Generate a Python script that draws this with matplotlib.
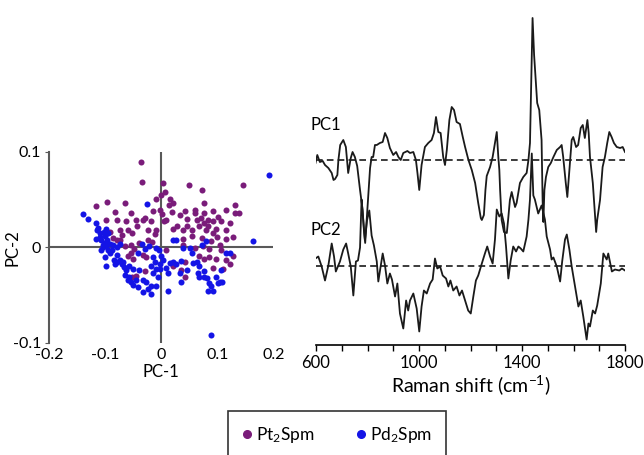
import matplotlib
matplotlib.use("Agg")
import matplotlib.pyplot as plt
from matplotlib.lines import Line2D
from matplotlib.ticker import FixedLocator, MultipleLocator

plt.rcParams["font.family"] = ["Lato", "DejaVu Sans"]
plt.rcParams["mathtext.fontset"] = "custom"
plt.rcParams["mathtext.rm"] = "Lato"
plt.rcParams["mathtext.it"] = "Lato:italic"
plt.rcParams["axes.unicode_minus"] = False

# PCA scores, Pt2Spm
pt_x = [-0.037, -0.034, 0.003, 0.007, -0.001, 0.049, 0.073, 0.146, -0.097, -0.116,
        -0.064, 0.016, 0.020, 0.014, -0.014, -0.083, -0.098, -0.080, -0.063, -0.046,
        -0.030, -0.032, -0.003, 0.002, 0.019, 0.033, 0.043, 0.060, 0.061, 0.071,
        0.077, 0.092, 0.077, 0.116, 0.131, 0.139, 0.131, 0.063, 0.083, 0.076,
        0.083, 0.092, 0.068, 0.045, 0.028, 0.021, 0.008, 0.004, -0.009, -0.012,
        -0.024, -0.043, -0.060, -0.074, -0.092, -0.086, -0.071, -0.052, 0.038, 0.054,
        0.073, 0.097, 0.092, 0.116, 0.115, 0.128, 0.099, 0.089, -0.055, -0.049,
        -0.039, -0.024, -0.017, 0.038, 0.060, 0.074, 0.086, 0.107, 0.128, 0.116,
        0.098, 0.086, 0.076, 0.067, -0.060, -0.054, -0.051, -0.033, -0.027, 0.122,
        0.110, 0.042, 0.036, 0.021, -0.045, -0.052, -0.030, 0.009, -0.074, -0.065,
        0.101, 0.107, 0.122, 0.045, 0.038, 0.042, 0.092, -0.080, 0.080, 0.104,
        0.054, -0.018, -0.054, -0.009]
pt_y = [0.089, 0.068, 0.067, 0.058, 0.055, 0.065, 0.060, 0.065, 0.047, 0.043,
        0.046, 0.050, 0.046, 0.044, 0.038, 0.037, 0.029, 0.029, 0.027, 0.029,
        0.031, 0.028, 0.039, 0.035, 0.037, 0.034, 0.038, 0.039, 0.036, 0.031,
        0.036, 0.038, 0.046, 0.039, 0.044, 0.036, 0.036, 0.029, 0.029, 0.025,
        0.022, 0.027, 0.022, 0.022, 0.022, 0.019, 0.029, 0.027, 0.018, 0.014,
        0.018, 0.022, 0.018, 0.018, 0.016, 0.010, 0.013, 0.015, 0.009, 0.012,
        0.010, 0.019, 0.015, 0.018, 0.009, 0.011, 0.011, 0.007, 0.002, -0.002,
        0.004, 0.008, 0.005, 0.002, -0.001, 0.001, -0.002, -0.003, -0.009, -0.013,
        -0.012, -0.010, -0.012, -0.009, -0.009, -0.006, -0.012, -0.008, -0.010, -0.018,
        -0.023, -0.031, -0.024, -0.020, -0.030, -0.031, -0.025, -0.003, 0.008, 0.001,
        0.032, 0.027, 0.025, 0.030, 0.018, -0.015, -0.022, 0.008, 0.018, 0.002,
        0.018, 0.027, 0.036, 0.050]

# PCA scores, Pd2Spm
pd_x = [0.192, 0.164, 0.089, -0.140, -0.131, -0.116, -0.113, -0.110, -0.109, -0.116,
        -0.107, -0.101, -0.104, -0.098, -0.092, -0.107, -0.101, -0.099, -0.080, -0.085,
        -0.079, -0.071, -0.067, -0.063, -0.064, -0.057, -0.054, -0.045, -0.042, -0.033,
        -0.024, -0.018, -0.018, -0.027, -0.033, -0.015, -0.009, -0.003, -0.006, -0.003,
        0.000, 0.003, 0.009, 0.012, 0.015, 0.021, 0.026, 0.039, 0.051, 0.054,
        0.036, 0.033, 0.036, 0.012, 0.064, 0.068, 0.065, 0.076, 0.068, 0.080,
        0.082, 0.086, 0.101, 0.104, 0.108, 0.092, 0.083, 0.089, 0.107, 0.122,
        -0.042, -0.034, -0.029, -0.022, -0.015, -0.009, -0.092, -0.073, -0.080, -0.086,
        -0.026, -0.101, -0.097, -0.115, -0.099, -0.095, -0.103, -0.105, -0.095, -0.088,
        -0.074, -0.068, -0.058, -0.051, -0.039, -0.012, -0.018, -0.004, 0.021, 0.027,
        0.045, 0.057, 0.073, 0.077, 0.097, 0.116, -0.009, -0.051, -0.060, -0.083]
pd_y = [0.076, 0.007, -0.092, 0.035, 0.030, 0.025, 0.020, 0.015, 0.011, 0.009,
        0.008, 0.004, 0.000, 0.001, 0.003, -0.003, -0.010, -0.020, -0.008, -0.013,
        -0.016, -0.018, -0.021, -0.024, -0.029, -0.031, -0.036, -0.034, -0.042, -0.047,
        -0.044, -0.049, -0.041, -0.036, -0.034, -0.027, -0.023, -0.023, -0.031, -0.018,
        -0.009, -0.013, -0.022, -0.027, -0.017, 0.008, 0.008, -0.001, -0.001, -0.006,
        -0.014, -0.027, -0.036, -0.046, -0.015, -0.020, -0.027, -0.025, -0.031, 0.006,
        -0.032, -0.038, -0.038, -0.036, -0.036, -0.046, -0.046, -0.041, -0.024, -0.006,
        -0.006, 0.003, -0.002, 0.001, -0.010, -0.001, -0.006, 0.003, 0.000, 0.002,
        0.045, 0.012, 0.008, 0.018, 0.019, 0.015, 0.016, 0.002, -0.003, -0.003,
        -0.013, -0.015, -0.020, -0.023, -0.024, -0.015, -0.020, -0.003, -0.015, -0.018,
        -0.024, -0.017, 0.002, -0.031, -0.031, -0.006, -0.041, -0.040, -0.034, -0.018]

# loadings (arbitrary units)
pc1_shift = [598, 605, 615, 626, 635, 648, 661, 668, 674, 683, 687, 694, 706, 716, 725,
             735, 742, 751, 760, 771, 781, 786, 791, 798, 804, 810, 816, 822, 829, 836,
             848, 859, 868, 877, 887, 900, 911, 920, 929, 939, 955, 965, 978, 988, 994,
             1001, 1010, 1023, 1036, 1049, 1058, 1066, 1075, 1084, 1094, 1101, 1108, 1118,
             1127, 1136, 1146, 1159, 1170, 1179, 1192, 1205, 1218, 1230, 1240, 1244, 1252,
             1258, 1263, 1276, 1286, 1295, 1302, 1308, 1312, 1315, 1321, 1330, 1341, 1346,
             1353, 1360, 1373, 1379, 1392, 1405, 1418, 1425, 1431, 1441, 1447, 1450, 1459,
             1467, 1476, 1480, 1483, 1487, 1493, 1502, 1512, 1522, 1535, 1548, 1554, 1560,
             1570, 1576, 1584, 1593, 1599, 1610, 1618, 1628, 1636, 1644, 1654, 1659, 1664,
             1675, 1688, 1692, 1703, 1713, 1722, 1731, 1739, 1748, 1757, 1768, 1781, 1791, 1800]
pc1_load = [-3, 5, -2, -1, -5, -8, -13, -20, -19, -15, 0, 15, 20, 13, -13,
            2, 8, 3, -6, -30, -50, -70, -83, -55, -30, -8, 3, 3, 15, 15,
            17, 18, 27, 22, 12, 5, 8, 3, 0, 7, 9, 7, 8, 0, -13,
            -30, -5, 13, 17, 20, 27, 43, 28, 27, 3, -5, 10, 40,
            53, 50, 38, 36, 23, 13, 0, -10, -23, -43, -58, -60, -55,
            -30, -16, -7, 3, 17, 28, 3, -10, -30, -60, -72, -73, -60,
            -40, -32, -47, -43, -23, -17, -13, 0, 17, 142, 105, 93, 57,
            50, 20, -40, -62, -30, -17, -7, -3, 3, 10, 13, 15, 3,
            -23, -37, -10, 20, 23, 13, 15, 32, 35, 22, 40, 27, 3,
            -23, -72, -60, -40, -7, 3, 17, 28, 23, 17, 13, 12, 13, 8]

pc2_shift = [598, 609, 622, 635, 648, 661, 670, 677, 693, 706, 717, 725, 735, 745, 755,
             763, 771, 777, 782, 790, 798, 807, 816, 825, 836, 842, 851, 859, 868, 877,
             887, 895, 907, 916, 926, 939, 950, 958, 965, 978, 991, 1001, 1010, 1019, 1030,
             1043, 1053, 1062, 1071, 1082, 1092, 1105, 1114, 1122, 1133, 1146, 1157, 1167,
             1179, 1191, 1201, 1211, 1221, 1230, 1244, 1256, 1265, 1276, 1286, 1295, 1302,
             1312, 1321, 1330, 1338, 1347, 1356, 1366, 1377, 1386, 1395, 1405, 1418, 1425,
             1431, 1438, 1444, 1450, 1463, 1476, 1489, 1496, 1509, 1515, 1522, 1535, 1548,
             1556, 1567, 1574, 1584, 1593, 1606, 1619, 1628, 1638, 1651, 1658, 1664, 1675,
             1684, 1692, 1706, 1716, 1729, 1735, 1749, 1761, 1778, 1788, 1800]
pc2_load = [7, 9, -1, -15, 0, 22, 9, -6, 4, 16, 22, 12, -1, -30, 4,
            5, 18, 66, 50, 25, 45, 55, 30, 20, 4, -16, -1, 12, 0, -18,
            -8, -14, -31, -18, -48, -63, -35, -45, -35, -28, -43, -66, -41, -25, -28,
            -18, -14, 7, -3, -1, -10, -13, -21, -15, -25, -21, -30, -25,
            -35, -45, -48, -31, -15, -10, 2, 12, 19, 9, 2, 26, 56,
            49, 52, 42, 19, -13, 5, 19, 14, 19, 17, 14, 29, 46,
            66, 112, 70, 66, 52, 60, 46, 29, 16, 6, 8, -1, -16,
            4, 26, 31, 16, -1, -21, -41, -35, -51, -74, -58, -61, -45,
            -48, -40, -18, 12, 6, 12, -6, -4, -5, -3, -5]

purple = "#7a1c7a"
blue = "#1414e6"
gray = "#595959"

fig = plt.figure(figsize=(6.44, 4.55), dpi=100)

# scores plot
ax1 = fig.add_axes([49.3 / 644, 1 - 342.7 / 455, 224 / 644, 191 / 455])
ax1.scatter(pt_x, pt_y, s=19, color=purple, linewidths=0, zorder=3)
ax1.scatter(pd_x, pd_y, s=19, color=blue, linewidths=0, zorder=3)
ax1.axhline(0, color=gray, lw=1.5, zorder=1)
ax1.axvline(0, color=gray, lw=1.5, zorder=1)
ax1.set_xlim(-0.2, 0.2)
ax1.set_ylim(-0.1, 0.1)
for s in ["top", "right", "bottom"]:
    ax1.spines[s].set_visible(False)
ax1.spines["left"].set_color(gray)
ax1.spines["left"].set_linewidth(1.5)
ax1.set_xticks([-0.2, -0.1, 0, 0.1, 0.2])
ax1.set_xticklabels(["-0.2", "-0.1", "0", "0.1", "0.2"])
ax1.set_yticks([-0.1, 0, 0.1])
ax1.set_yticklabels(["-0.1", "0", "0.1"])
ax1.tick_params(axis="x", length=0, pad=4, labelsize=11.5)
ax1.tick_params(axis="y", length=3, color=gray, pad=3, labelsize=11.5)
ax1.set_xlabel("PC-1", fontsize=12, labelpad=1)
ax1.set_ylabel("PC-2", fontsize=12)
ax1.yaxis.set_label_coords(-0.13, 0.5)

# loadings plot
ax2 = fig.add_axes([316 / 644, 1 - 345 / 455, 309 / 644, 335 / 455])
off1 = 185
off2 = 79.5
ax2.plot(pc1_shift, [v + off1 for v in pc1_load], color="#1a1a1a", lw=1.3)
ax2.plot(pc2_shift, [v + off2 for v in pc2_load], color="#1a1a1a", lw=1.3)
ax2.axhline(off1, color="#1a1a1a", lw=1.2, ls=(0, (4, 2.5)))
ax2.axhline(off2, color="#1a1a1a", lw=1.2, ls=(0, (4, 2.5)))
ax2.set_xlim(600, 1800)
ax2.set_ylim(0, 335)
for s in ["top", "right", "left"]:
    ax2.spines[s].set_visible(False)
ax2.spines["bottom"].set_linewidth(1.2)
ax2.set_yticks([])
ax2.xaxis.set_major_locator(FixedLocator([600, 1000, 1400, 1800]))
ax2.xaxis.set_minor_locator(MultipleLocator(100))
ax2.tick_params(axis="x", which="both", length=4, width=1, labelsize=12, pad=3)
ax2.set_xlabel("Raman shift (cm$^{-1}$)", fontsize=14, labelpad=2)

fig.text(310 / 644, 1 - 125 / 455, "PC1", fontsize=12, va="center", ha="left")
fig.text(310 / 644, 1 - 230 / 455, "PC2", fontsize=12, va="center", ha="left")

handles = [
    Line2D([], [], marker="o", ls="none", color=purple, markersize=5.5),
    Line2D([], [], marker="o", ls="none", color=blue, markersize=5.5),
]
leg = fig.legend(handles, ["Pt$_2$Spm", "Pd$_2$Spm"], loc="upper center",
                 bbox_to_anchor=(337 / 644, 1 - 411 / 455), ncol=2, fontsize=12.5,
                 frameon=True, fancybox=False, edgecolor="#333333", framealpha=1,
                 borderpad=0.8, handlelength=0.6, handletextpad=0.2,
                 columnspacing=2.4, borderaxespad=0)
leg.get_frame().set_linewidth(1.2)
leg._legend_box.align = "center"

fig.savefig("out.png", dpi=100, facecolor="white")
